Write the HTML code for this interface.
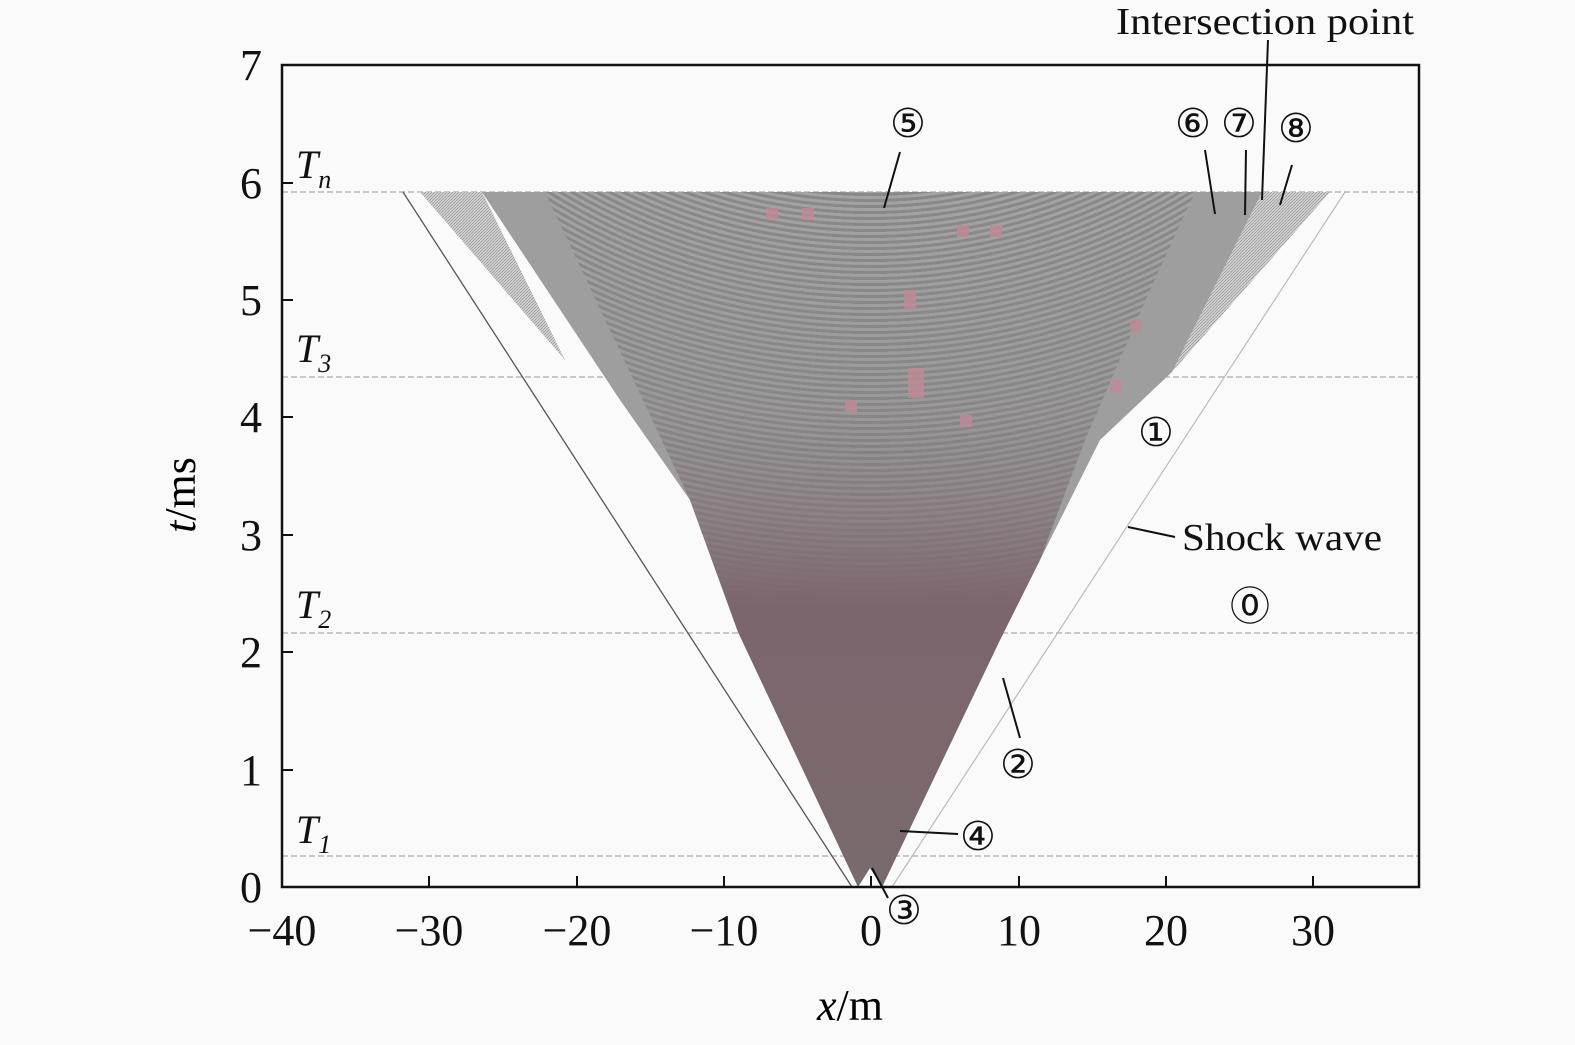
<!DOCTYPE html>
<html><head><meta charset="utf-8"><style>
html,body{margin:0;padding:0;background:#fafafa;}
svg{display:block;font-family:"Liberation Serif",serif;}
</style></head><body>
<svg width="1575" height="1045" viewBox="0 0 1575 1045">
<defs>
<linearGradient id="fan" gradientUnits="userSpaceOnUse" x1="0" y1="192" x2="0" y2="887">
<stop offset="0" stop-color="#969696"/>
<stop offset="0.3" stop-color="#8e8c8d"/>
<stop offset="0.45" stop-color="#867a7f"/>
<stop offset="0.6" stop-color="#7c666d"/>
<stop offset="1" stop-color="#786a6d"/>
</linearGradient>
<radialGradient id="ring" gradientUnits="userSpaceOnUse" cx="870" cy="-320" r="6" fx="870" fy="-320" spreadMethod="repeat">
<stop offset="0" stop-color="#acacac"/>
<stop offset="0.45" stop-color="#acacac"/>
<stop offset="0.55" stop-color="#808080"/>
<stop offset="1" stop-color="#808080"/>
</radialGradient>
<linearGradient id="fade" gradientUnits="userSpaceOnUse" x1="0" y1="192" x2="0" y2="600">
<stop offset="0" stop-color="#fff" stop-opacity="0.6"/>
<stop offset="0.6" stop-color="#fff" stop-opacity="0.4"/>
<stop offset="1" stop-color="#fff" stop-opacity="0"/>
</linearGradient>
<mask id="m"><rect x="0" y="0" width="1575" height="1045" fill="url(#fade)"/></mask>
<pattern id="hatch" width="3" height="3" patternUnits="userSpaceOnUse">
<rect width="3" height="3" fill="#d4d4d4"/>
<path d="M0 3 L3 0" stroke="#999" stroke-width="0.8"/>
</pattern>
</defs>
<rect width="1575" height="1045" fill="#fafafa"/>
<g stroke="#aaa" stroke-width="1.2" stroke-dasharray="6 3">
<line x1="282" y1="192" x2="1419" y2="192"/>
<line x1="282" y1="377" x2="1419" y2="377"/>
<line x1="282" y1="633" x2="1419" y2="633"/>
<line x1="282" y1="856" x2="1419" y2="856"/>
</g>
<polygon points="420,192 482,192 565,360" fill="url(#hatch)"/>
<polygon points="1262,192 1330,192 1172,372" fill="url(#hatch)"/>
<line x1="403" y1="192" x2="852" y2="887" stroke="#555" stroke-width="1.3"/>
<line x1="1345" y1="192" x2="892" y2="887" stroke="#bbb" stroke-width="1.2"/>
<polygon points="482,192 1262,192 1172,372 1100,440 1040,560 1000,640 882,887 870,868 858,887 738,632 690,500 620,400" fill="#9e9e9e"/>
<polygon points="545,192 1195,192 1150,290 1085,440 1040,560 1000,640 882,887 870,868 858,887 738,632 690,500" fill="url(#fan)"/>
<polygon mask="url(#m)" points="545,192 1195,192 1150,290 1085,440 1040,560 1000,640 882,887 870,868 858,887 738,632 690,500" fill="url(#ring)"/>
<g fill="#c08a96" opacity="0.8">
<rect x="766" y="208" width="12" height="12"/><rect x="802" y="208" width="12" height="12"/>
<rect x="957" y="225" width="12" height="12"/><rect x="990" y="225" width="12" height="12"/>
<rect x="904" y="290" width="12" height="20"/><rect x="908" y="368" width="16" height="30"/>
<rect x="845" y="400" width="12" height="12"/><rect x="960" y="415" width="12" height="12"/>
<rect x="1130" y="320" width="12" height="12"/><rect x="1110" y="380" width="12" height="12"/>
</g>
<rect x="282" y="65" width="1137" height="822" fill="none" stroke="#111" stroke-width="2.5"/>
<g stroke="#111" stroke-width="2">
<line x1="429" y1="887" x2="429" y2="876"/><line x1="577" y1="887" x2="577" y2="876"/>
<line x1="724" y1="887" x2="724" y2="876"/><line x1="871" y1="887" x2="871" y2="876"/>
<line x1="1019" y1="887" x2="1019" y2="876"/><line x1="1166" y1="887" x2="1166" y2="876"/>
<line x1="1313" y1="887" x2="1313" y2="876"/>
<line x1="282" y1="770" x2="293" y2="770"/><line x1="282" y1="652" x2="293" y2="652"/>
<line x1="282" y1="535" x2="293" y2="535"/><line x1="282" y1="417" x2="293" y2="417"/>
<line x1="282" y1="300" x2="293" y2="300"/><line x1="282" y1="183" x2="293" y2="183"/>
</g>
<g font-size="44" fill="#111" text-anchor="middle">
<text x="282" y="945">−40</text><text x="429" y="945">−30</text><text x="577" y="945">−20</text>
<text x="724" y="945">−10</text><text x="871" y="945">0</text><text x="1019" y="945">10</text>
<text x="1166" y="945">20</text><text x="1313" y="945">30</text>
</g>
<g font-size="44" fill="#111" text-anchor="end">
<text x="262" y="902">0</text><text x="262" y="785">1</text><text x="262" y="667">2</text>
<text x="262" y="550">3</text><text x="262" y="432">4</text><text x="262" y="315">5</text>
<text x="262" y="198">6</text><text x="262" y="80">7</text>
</g>
<text x="850" y="1020" font-size="44" text-anchor="middle"><tspan font-style="italic">x</tspan>/m</text>
<text transform="translate(195,495) rotate(-90)" font-size="44" text-anchor="middle"><tspan font-style="italic">t</tspan>/ms</text>
<g font-size="40" font-style="italic" fill="#111">
<text x="296" y="178">T<tspan font-size="26" dy="10">n</tspan></text>
<text x="296" y="362">T<tspan font-size="26" dy="10">3</tspan></text>
<text x="296" y="618">T<tspan font-size="26" dy="10">2</tspan></text>
<text x="296" y="843">T<tspan font-size="26" dy="10">1</tspan></text>
</g>
<g font-size="38" fill="#111">
<text x="1116" y="34" textLength="298" lengthAdjust="spacingAndGlyphs">Intersection  point</text>
<text x="1182" y="550" textLength="200" lengthAdjust="spacingAndGlyphs">Shock wave</text>
</g>
<g font-size="40" fill="#111" font-family="DejaVu Sans, sans-serif">
<text x="890" y="137">⑤</text>
<text x="1175" y="137">⑥</text><text x="1221" y="137">⑦</text><text x="1278" y="142">⑧</text>
<text x="1138" y="446">①</text><text x="1230" y="620">⓪</text>
<text x="1000" y="778">②</text><text x="960" y="850">④</text><text x="886" y="924">③</text>
</g>
<g stroke="#111" stroke-width="2">
<line x1="900" y1="152" x2="884" y2="208"/>
<line x1="1205" y1="150" x2="1215" y2="214"/>
<line x1="1246" y1="150" x2="1245" y2="215"/>
<line x1="1268" y1="40" x2="1262" y2="200"/>
<line x1="1292" y1="165" x2="1280" y2="205"/>
<line x1="1128" y1="527" x2="1175" y2="537"/>
<line x1="1003" y1="678" x2="1020" y2="738"/>
<line x1="900" y1="831" x2="958" y2="834"/>
<line x1="872" y1="868" x2="888" y2="898"/>
</g>
</svg>
</body></html>
